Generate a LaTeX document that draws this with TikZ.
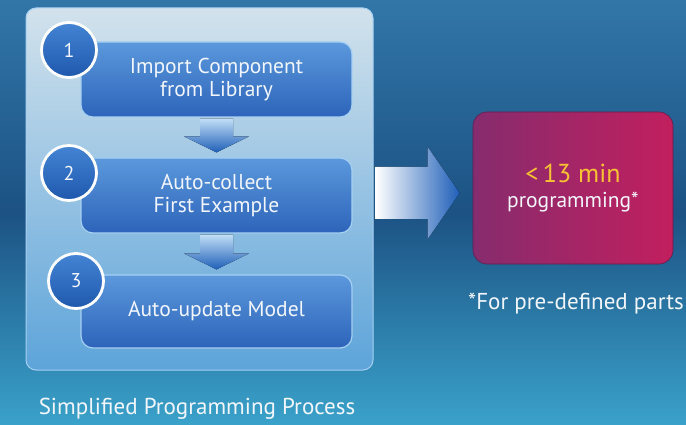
\documentclass[tikz,border=0pt]{standalone}
\usepackage{fontspec}
\setmainfont{PT Sans}
\usetikzlibrary{calc}
\definecolor{bgtop}{HTML}{3276A8}
\definecolor{bgmid}{HTML}{1C5284}
\definecolor{bgbot}{HTML}{3AA2CA}
\definecolor{paneltop}{HTML}{D2E2EC}
\definecolor{panelbot}{HTML}{5DA4DA}
\definecolor{boxtop}{HTML}{5B98DC}
\definecolor{boxbot}{HTML}{2D64BA}
\definecolor{boxedge}{HTML}{A6D0F2}
\definecolor{circtop}{HTML}{4484D4}
\definecolor{circbot}{HTML}{1E58AE}
\definecolor{arrblue}{HTML}{1F5FB8}
\definecolor{resleft}{HTML}{862C6E}
\definecolor{resright}{HTML}{C21F5E}
\definecolor{resyellow}{HTML}{F7C233}
\definecolor{txtwhite}{HTML}{F2F6FB}
\tikzset{
  panelbox/.style={rounded corners=10pt, top color=paneltop, bottom color=panelbot,
    draw=boxedge, line width=1pt, minimum width=347pt, minimum height=362pt},
  stepbox/.style={rounded corners=12pt, top color=boxtop, bottom color=boxbot,
    draw=boxedge, line width=1.2pt, minimum width=271pt, text=txtwhite,
    font=\fontsize{21.5}{23}\selectfont, align=center},
  numcirc/.style={circle, top color=circtop, bottom color=circbot, draw=white,
    line width=2.8pt, minimum size=55pt, inner sep=0pt, text=txtwhite,
    font=\fontsize{20}{22}\selectfont},
  downarrow/.style={top color=boxedge!70!white, bottom color=arrblue},
  resbox/.style={rounded corners=14pt, left color=resleft, right color=resright,
    draw=resleft!70!black, line width=0.6pt, minimum width=200pt, minimum height=152pt,
    align=center, font=\fontsize{26}{25}\selectfont},
  captxt/.style={text=txtwhite, font=\fontsize{23}{26}\selectfont}
}
\begin{document}
\begin{tikzpicture}[x=1pt,y=-1pt]
\path[use as bounding box, top color=bgtop, bottom color=bgbot, middle color=bgmid]
  (0,0) rectangle (686,425);
\node[panelbox] (panel) at (199.5,189) {};
\node[stepbox, minimum height=75pt] (b1) at (216.5,79.5) {Import Component\\from Library};
\node[stepbox, minimum height=75pt] (b2) at (216.5,195.5) {Auto-collect\\First Example};
\node[stepbox, minimum height=73pt] (b3) at (216.5,311.5) {Auto-update Model};
\node[numcirc] (c1) at (69,50) {1};
\node[numcirc] (c2) at (69,173) {2};
\node[numcirc] (c3) at (76,281) {3};
% down arrows
\foreach \a/\b in {b1/b2, b2/b3}{
  \fill[downarrow] ($(\a.south)+(-16.5,1)$) -- ($(\a.south)+(16.5,1)$)
    -- ($(\b.north)+(16.5,-21)$) -- ($(\b.north)+(32.5,-21)$)
    -- ($(\b.north)+(0,-5)$) -- ($(\b.north)+(-32.5,-21)$)
    -- ($(\b.north)+(-16.5,-21)$) -- cycle;
}
\node[captxt] (cap) at (197,409) {Simplified Programming Process};
% result box
\node[resbox] (res) at (573,188) {%
  \textcolor{resyellow}{<\,13 min}\\
  \textcolor{txtwhite}{\fontsize{21.5}{23}\selectfont programming*}};
\node[captxt] (note) at (576,304) {*For pre-defined parts};
% big arrow
\coordinate (s) at (panel.east |- res.west);
\fill[left color=white, right color=arrblue]
  ($(s)+(2,-21)$) -- ($(res.west)+(-45,-21)$) -- ($(res.west)+(-45,-41)$)
  -- ($(res.west)+(-13,5)$) -- ($(res.west)+(-45,51)$) -- ($(res.west)+(-45,31)$)
  -- ($(s)+(2,31)$) -- cycle;
\end{tikzpicture}
\end{document}
